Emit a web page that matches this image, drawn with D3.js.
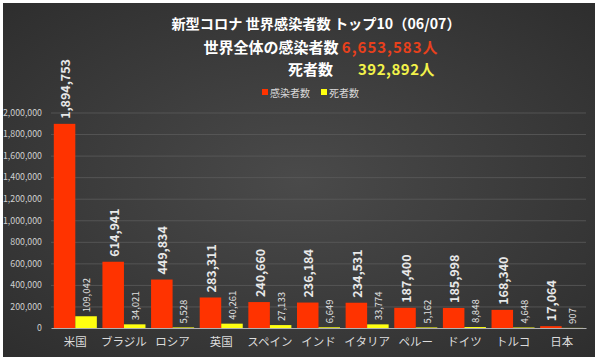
<!DOCTYPE html>
<html>
<head>
<meta charset="utf-8">
<script src="https://cdn.jsdelivr.net/npm/d3@7"></script>
<style>
  html, body { margin: 0; padding: 0; background: #ffffff; }
  svg { display: block; }
  text { font-family: "Noto Sans CJK JP", "Noto Sans", sans-serif; }
</style>
</head>
<body>
<svg id="chart" width="600" height="360"></svg>
<script>
const categories = ["米国", "ブラジル", "ロシア", "英国", "スペイン", "インド", "イタリア", "ペルー", "ドイツ", "トルコ", "日本"];
const infected = [1894753, 614941, 449834, 283311, 240660, 236184, 234531, 187400, 185998, 168340, 17064];
const deaths = [109042, 34021, 5528, 40261, 27133, 6649, 33774, 5162, 8848, 4648, 907];
const yTicks = [0, 200000, 400000, 600000, 800000, 1000000, 1200000, 1400000, 1600000, 1800000, 2000000];
const seriesNames = ["感染者数", "死者数"];
const titleText = "新型コロナ 世界感染者数 トップ10（06/07）";
const totalLabel = "世界全体の感染者数";
const totalInfected = 6653583;
const deathLabel = "死者数";
const totalDeaths = 392892;

(function () {
const RED = "#ff3300", YELLOW = "#ffff10";
const svg = d3.select("#chart");
const defs = svg.append("defs");
const grad = defs.append("radialGradient").attr("id", "bg")
  .attr("cx", "50%").attr("cy", "50%").attr("r", "75%");
grad.append("stop").attr("offset", "0%").attr("stop-color", "#4a4a4a");
grad.append("stop").attr("offset", "100%").attr("stop-color", "#2c2c2c");

svg.append("rect").attr("x", 3).attr("y", 3).attr("width", 592).attr("height", 354)
  .attr("fill", "url(#bg)");

const mLeft = 51, mRight = 586, mTop = 112.5, mBottom = 328;
const y = d3.scaleLinear().domain([0, 2000000]).range([mBottom, mTop]);
const x = d3.scaleBand().domain(categories).range([mLeft, mRight]).padding(0);
const xs = d3.scaleBand().domain(seriesNames).range([0, x.bandwidth()]).paddingInner(0).paddingOuter(0.13);

// grid
const yAxis = d3.axisLeft(y).tickValues(yTicks).tickFormat(d3.format(",")).tickSize(-(mRight - mLeft)).tickPadding(8);
const gy = svg.append("g").attr("transform", `translate(${mLeft},0)`).call(yAxis);
gy.select(".domain").remove();
gy.selectAll(".tick line").attr("stroke", "#5c5c5c").attr("stroke-width", 0.8);
gy.selectAll(".tick text").attr("fill", "#d0d0d0").style("font-size", "8.8px").attr("x", -9);
gy.selectAll(".tick").filter(d => d === 0).select("line").remove();

// bars
const groups = svg.append("g").selectAll("g").data(categories).join("g")
  .attr("transform", d => `translate(${x(d)},0)`);

groups.append("rect")
  .attr("x", xs(seriesNames[0])).attr("width", xs.bandwidth())
  .attr("y", (d, i) => y(infected[i])).attr("height", (d, i) => y(0) - y(infected[i]))
  .attr("fill", RED);
groups.append("rect")
  .attr("x", xs(seriesNames[1])).attr("width", xs.bandwidth())
  .attr("y", (d, i) => y(deaths[i])).attr("height", (d, i) => y(0) - y(deaths[i]))
  .attr("fill", YELLOW);

const fmt = d3.format(",");
groups.append("text")
  .attr("transform", (d, i) => `translate(${xs(seriesNames[0]) + xs.bandwidth() / 2},${y(infected[i]) - 5}) rotate(-90)`)
  .attr("dominant-baseline", "central")
  .attr("fill", "#e8e8e8").style("font-size", "12.5px").style("font-weight", "bold")
  .text((d, i) => fmt(infected[i]));
groups.append("text")
  .attr("transform", (d, i) => `translate(${xs(seriesNames[1]) + xs.bandwidth() / 2},${y(deaths[i]) - 4}) rotate(-90)`)
  .attr("dominant-baseline", "central")
  .attr("fill", "#e0e0e0").style("font-size", "9.5px")
  .text((d, i) => fmt(deaths[i]));

// x axis
const xAxis = d3.axisBottom(x).tickSize(0).tickPadding(10);
const gx = svg.append("g").attr("transform", `translate(0,${mBottom})`).call(xAxis);
gx.select(".domain").attr("stroke", "#b0b0b0").attr("stroke-width", 1);
gx.selectAll(".tick text").attr("fill", "#dcdcdc").style("font-size", "11.5px");

// titles
svg.append("text").attr("x", 316).attr("y", 23).attr("text-anchor", "middle")
  .attr("dominant-baseline", "central").attr("fill", "#ffffff")
  .style("font-size", "14.2px").style("font-weight", "bold").text(titleText);

const l2 = svg.append("text").attr("x", 321).attr("y", 46).attr("text-anchor", "middle")
  .attr("dominant-baseline", "central").style("font-size", "15px").style("font-weight", "bold");
l2.append("tspan").attr("fill", "#ffffff").text(totalLabel + " ");
l2.append("tspan").attr("fill", "#e8401c").style("letter-spacing", "1px").text(fmt(totalInfected) + "人");

svg.append("text").attr("x", 333).attr("y", 68).attr("text-anchor", "end")
  .attr("dominant-baseline", "central").attr("fill", "#ffffff")
  .style("font-size", "15px").style("font-weight", "bold").text(deathLabel);
svg.append("text").attr("x", 435).attr("y", 68).attr("text-anchor", "end")
  .attr("dominant-baseline", "central").attr("fill", "#f2f24a")
  .style("font-size", "15px").style("font-weight", "bold").style("letter-spacing", "0.5px")
  .text(fmt(totalDeaths) + "人");

// legend
const legend = svg.append("g");
const legItems = [{name: seriesNames[0], color: RED, x: 262}, {name: seriesNames[1], color: YELLOW, x: 321}];
legItems.forEach(it => {
  legend.append("rect").attr("x", it.x).attr("y", 89).attr("width", 6).attr("height", 6).attr("fill", it.color);
  legend.append("text").attr("x", it.x + 8).attr("y", 92).attr("dominant-baseline", "central")
    .attr("fill", "#d8d8d8").style("font-size", "10px").text(it.name);
});
})();
</script>
</body>
</html>
